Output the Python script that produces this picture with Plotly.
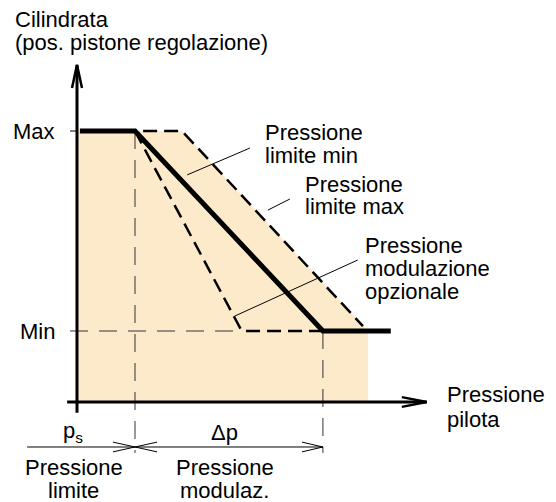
import plotly.graph_objects as go

# diagram units: pressure on x (origin at the axis, p_s = 1), displacement on y (Max = 1)
P_S = 1.0
P_END = 4.24
V_MAX = 1.0
V_MIN = 0.262

NOMINAL_P = [0.05, P_S, P_END, 5.41]
NOMINAL_V = [V_MAX, V_MAX, V_MIN, V_MIN]

LIMIT_MAX_P = [1.14, 1.81, 4.93]
LIMIT_MAX_V = [V_MAX, V_MAX, 0.28]

OPTIONAL_P = [P_S, 2.84, P_END]
OPTIONAL_V = [V_MAX, V_MIN, V_MIN]

SHADE_P = [0, 1.81, 5.02, 5.02, 0]
SHADE_V = [V_MAX, V_MAX, V_MIN, 0, 0]

LEADERS = [
    ([1.90, 2.98], [0.838, 0.937]),
    ([3.29, 3.67], [0.708, 0.749]),
    ([2.72, 4.84], [0.317, 0.524]),
]

DIM_Y = -0.166
FONT = dict(family="Liberation Sans, Arial, sans-serif", size=22, color="black")
INK = "black"
GUIDE = "#333333"


def vee(tip_x, tip_y, back_x, half_w, vertical=False):
    # open arrowhead: two strokes meeting at the tip
    if vertical:
        return ([tip_x - half_w, tip_x, tip_x + half_w], [back_x, tip_y, back_x])
    return ([back_x, tip_x, back_x], [tip_y - half_w, tip_y, tip_y + half_w])


def line(fig, xs, ys, width, dash="solid", color=INK):
    fig.add_trace(
        go.Scatter(
            x=xs, y=ys, mode="lines", hoverinfo="skip",
            line=dict(color=color, width=width, dash=dash),
        )
    )


fig = go.Figure()

fig.add_trace(
    go.Scatter(
        x=SHADE_P, y=SHADE_V, mode="lines", fill="toself",
        fillcolor="#FDEACB", line=dict(width=0), hoverinfo="skip",
    )
)

# thin guides
line(fig, [-0.12, OPTIONAL_P[1]], [V_MIN, V_MIN], 1, "18px,11px", GUIDE)
line(fig, [P_S, P_S], [V_MAX, -0.188], 1, "18px,11px", GUIDE)
line(fig, [P_END, P_END], [V_MIN, -0.188], 1, "18px,11px", GUIDE)
line(fig, [-0.12, 0], [V_MAX, V_MAX], 1)

# axes
line(fig, [0, 0], [-0.04, 1.244], 3)
line(fig, *vee(0, 1.244, 1.159, 0.086, vertical=True), 2.5)
line(fig, [-0.17, 6.03], [0, 0], 3)
line(fig, *vee(6.03, 0, 5.60, 0.018), 2.5)

# curves
line(fig, LIMIT_MAX_P, LIMIT_MAX_V, 2.5, "14px,7px")
line(fig, OPTIONAL_P, OPTIONAL_V, 2.5, "14px,7px")
line(fig, NOMINAL_P, NOMINAL_V, 5)

for xs, ys in LEADERS:
    line(fig, xs, ys, 1)

# dimension line
line(fig, [-0.86, P_END], [DIM_Y, DIM_Y], 1)
line(fig, *vee(P_S, DIM_Y, P_S - 0.38, 0.018), 1)
line(fig, *vee(P_S, DIM_Y, P_S + 0.38, 0.018), 1)
line(fig, *vee(P_END, DIM_Y, P_END - 0.36, 0.018), 1)

labels = [
    ("Cilindrata", -1.103, 1.41, "left"),
    ("(pos. pistone regolazione)", -1.103, 1.325, "left"),
    ("Max", -0.345, V_MAX, "right"),
    ("Min", -0.345, V_MIN, "right"),
    ("Pressione", 3.207, 0.996, "left"),
    ("limite min", 3.207, 0.911, "left"),
    ("Pressione", 3.897, 0.801, "left"),
    ("limite max", 3.897, 0.72, "left"),
    ("Pressione", 4.93, 0.579, "left"),
    ("modulazione", 4.93, 0.494, "left"),
    ("opzionale", 4.93, 0.406, "left"),
    ("Pressione", 6.345, 0.026, "left"),
    ("pilota", 6.345, -0.066, "left"),
    ("p<sub>s</sub>", -0.069, -0.111, "center"),
    ("Δp", 2.55, -0.111, "center"),
    ("Pressione", -0.052, -0.240, "center"),
    ("limite", -0.052, -0.325, "center"),
    ("Pressione", 2.55, -0.240, "center"),
    ("modulaz.", 2.55, -0.325, "center"),
]
for text, x, y, anchor in labels:
    fig.add_annotation(
        x=x, y=y, text=text, showarrow=False, xanchor=anchor, yanchor="middle",
        font=FONT,
    )

# the page body adds an 8 px margin, so the figure covers window pixels 8..556 / 8..502
fig.update_layout(
    width=548, height=494,
    margin=dict(l=0, r=0, t=0, b=0),
    paper_bgcolor="white", plot_bgcolor="white",
    showlegend=False,
)
fig.update_xaxes(range=[(8 - 77) / 58, (556 - 77) / 58], visible=False, fixedrange=True)
fig.update_yaxes(range=[(402 - 502) / 271, (402 - 8) / 271], visible=False, fixedrange=True)

fig.write_html("out.html")
